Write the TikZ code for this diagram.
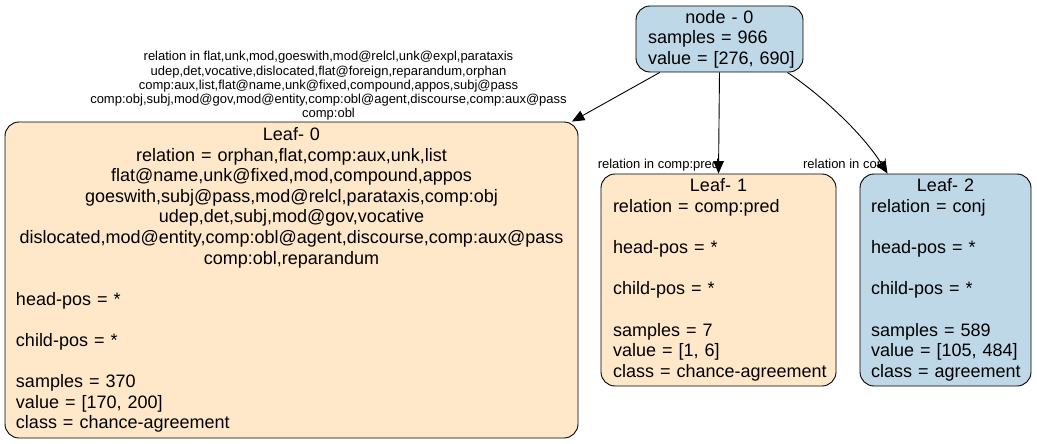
\documentclass[tikz,border=0pt]{standalone}
\usepackage{fontspec}
\setmainfont{Liberation Sans}
\usetikzlibrary{arrows.meta,calc}
\definecolor{nblue}{HTML}{BED8E8}
\definecolor{norange}{HTML}{FFE7C9}
\tikzset{
  treebox/.style={draw=black, line width=0.9pt, rounded corners=14pt, inner sep=0pt, align=left, font=\fontsize{18}{20.6}\selectfont},
  arr/.style={draw=black, line width=0.9pt, -{Triangle[length=12.5pt,width=10.5pt]}},
  elabel/.style={inner sep=0pt, align=center, font=\fontsize{13}{14.3}\selectfont},
}
\newcommand{\ctrline}[1]{\makebox[\hsize]{#1}}
\newcommand{\lftline}[1]{\makebox[\hsize][l]{#1}}
\begin{document}
\begin{tikzpicture}[x=1pt,y=1pt]
\useasboundingbox (0,0) rectangle (1037,-444);
\node[treebox, fill=nblue, minimum width=167, minimum height=66, text width=143] (n0) at (719.5,-39)
  {\ctrline{node - 0}\\ \lftline{samples = 966}\\ \lftline{value = [276, 690]}};
\node[treebox, fill=norange, minimum width=573, minimum height=316, text width=551] (l0) at (291.5,-280)
  {\ctrline{Leaf- 0}\\
   \ctrline{relation = orphan,flat,comp:aux,unk,list}\\
   \ctrline{flat@name,unk@fixed,mod,compound,appos}\\
   \ctrline{goeswith,subj@pass,mod@relcl,parataxis,comp:obj}\\
   \ctrline{udep,det,subj,mod@gov,vocative}\\
   \ctrline{dislocated,mod@entity,comp:obl@agent,discourse,comp:aux@pass}\\
   \ctrline{comp:obl,reparandum}\\
   \mbox{}\\
   \lftline{head-pos = *}\\
   \mbox{}\\
   \lftline{child-pos = *}\\
   \mbox{}\\
   \lftline{samples = 370}\\
   \lftline{value = [170, 200]}\\
   \lftline{class = chance-agreement}};
\node[treebox, fill=norange, minimum width=235, minimum height=212, text width=211] (l1) at (718.5,-280)
  {\ctrline{Leaf- 1}\\
   \lftline{relation = comp:pred}\\
   \mbox{}\\
   \lftline{head-pos = *}\\
   \mbox{}\\
   \lftline{child-pos = *}\\
   \mbox{}\\
   \lftline{samples = 7}\\
   \lftline{value = [1, 6]}\\
   \lftline{class = chance-agreement}};
\node[treebox, fill=nblue, minimum width=171, minimum height=212, text width=149] (l2) at (945.5,-280)
  {\ctrline{Leaf- 2}\\
   \lftline{relation = conj}\\
   \mbox{}\\
   \lftline{head-pos = *}\\
   \mbox{}\\
   \lftline{child-pos = *}\\
   \mbox{}\\
   \lftline{samples = 589}\\
   \lftline{value = [105, 484]}\\
   \lftline{class = agreement}};
\node[elabel] (e0) at (328.5,-86)
  {relation in flat,unk,mod,goeswith,mod@relcl,unk@expl,parataxis\\
   udep,det,vocative,dislocated,flat@foreign,reparandum,orphan\\
   comp:aux,list,flat@name,unk@fixed,compound,appos,subj@pass\\
   comp:obj,subj,mod@gov,mod@entity,comp:obl@agent,discourse,comp:aux@pass\\
   comp:obl};
\node[elabel] (e1) at (658.5,-165) {relation in comp:pred};
\node[elabel] (e2) at (845,-165) {relation in conj};
\coordinate (s2) at ($(n0.south east)+(-16,0)$);
\coordinate (t2) at ($(l2.north west)+(28,0)$);
\draw[arr] (n0) -- (l0);
\draw[arr] (n0.south) -- (l1.north);
\draw[arr] (s2) .. controls +(-34:45) and +(122:45) .. (t2);
\end{tikzpicture}
\end{document}
